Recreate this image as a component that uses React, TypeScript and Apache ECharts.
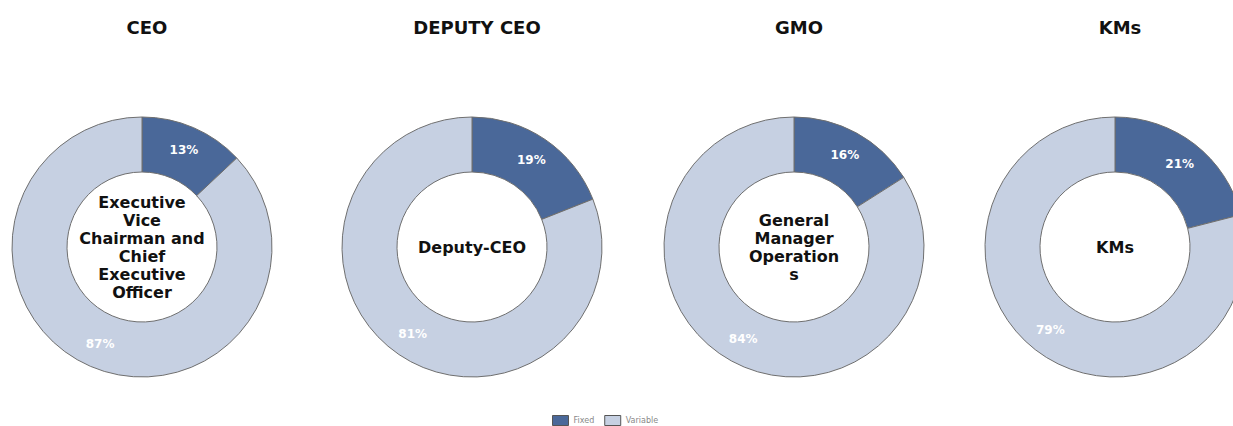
import React, { useEffect, useRef } from "react";
import * as echarts from "echarts";

const roles = ["CEO", "DEPUTY CEO", "GMO", "KMs"];
const centerLabels = [
  "Executive\nVice\nChairman and\nChief\nExecutive\nOfficer",
  "Deputy-CEO",
  "General\nManager\nOperation\ns",
  "KMs",
];
const seriesNames = ["Fixed", "Variable"];
const fixedPct = [13, 19, 16, 21];
const variablePct = [87, 81, 84, 79];

const centersX = [142, 472, 794, 1115];
const centerY = 247;
const colors = ["#4a6899", "#c6d0e2"];
const font = "DejaVu Sans";

export default function App() {
  const ref = useRef<HTMLDivElement>(null);
  useEffect(() => {
    if (!ref.current) return;
    const chart = echarts.init(ref.current, undefined, { renderer: "svg" });
    const titles: any[] = [];
    roles.forEach((r, i) => {
      titles.push({
        text: r,
        left: centersX[i] + 5,
        top: 18,
        padding: 0,
        textAlign: "center",
        textStyle: { fontFamily: font, fontWeight: "bold", fontSize: 18, color: "#111" },
      });
      titles.push({
        text: centerLabels[i],
        left: centersX[i],
        top: centerY,
        padding: 0,
        textAlign: "center",
        textVerticalAlign: "middle",
        textStyle: {
          fontFamily: font,
          fontWeight: "bold",
          fontSize: 16,
          lineHeight: 18,
          color: "#111",
        },
      });
    });
    const series = roles.map((r, i) => ({
      type: "pie",
      name: r,
      center: [centersX[i], centerY],
      radius: [75, 130],
      startAngle: 90,
      clockwise: true,
      avoidLabelOverlap: false,
      label: {
        show: true,
        position: "inside",
        formatter: "{c}%",
        color: "#ffffff",
        fontFamily: font,
        fontWeight: "bold",
        fontSize: 12,
      },
      labelLine: { show: false },
      itemStyle: { borderColor: "#6f6f6f", borderWidth: 1 },
      emphasis: { disabled: true },
      data: [
        { name: seriesNames[0], value: fixedPct[i], itemStyle: { color: colors[0] } },
        { name: seriesNames[1], value: variablePct[i], itemStyle: { color: colors[1] } },
      ],
    }));
    chart.setOption({
      animation: false,
      backgroundColor: "#ffffff",
      title: titles,
      legend: {
        data: seriesNames,
        left: 547,
        top: 410,
        itemWidth: 16,
        itemHeight: 10,
        itemGap: 10,
        icon: "rect",
        textStyle: { fontSize: 8, color: "#888", fontFamily: font },
        itemStyle: { borderColor: "#555", borderWidth: 1 },
      },
      series,
    });
    return () => chart.dispose();
  }, []);
  return (
    <div
      ref={ref}
      style={{ position: "fixed", left: 0, top: 0, width: 1233, height: 426 }}
    />
  );
}
